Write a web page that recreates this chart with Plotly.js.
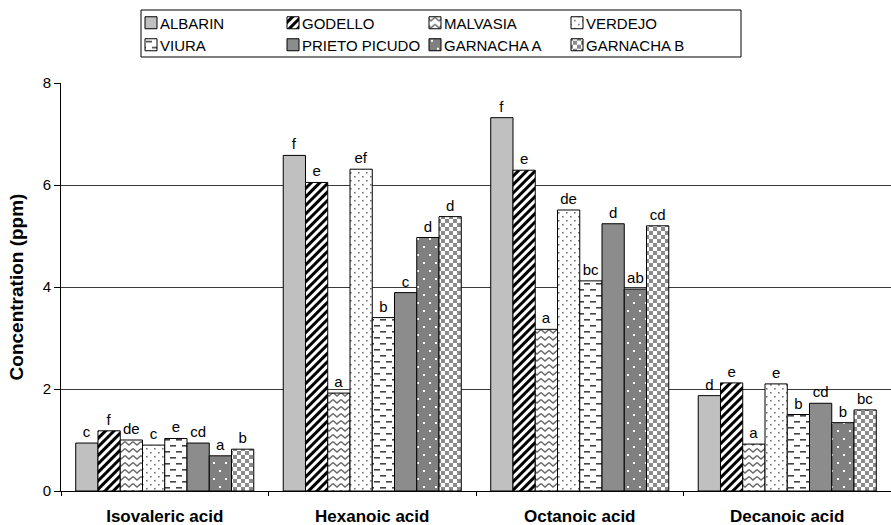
<!DOCTYPE html>
<html><head><meta charset="utf-8">
<script src="https://cdn.plot.ly/plotly-3.0.1.min.js"></script>
<style>html,body{margin:0;padding:0;background:#fff}#chart{width:891px;height:525px}</style>
</head><body><div id="chart"></div>
<script>
var categories = ["Isovaleric acid", "Hexanoic acid", "Octanoic acid", "Decanoic acid"];
var seriesNames = ["ALBARIN", "GODELLO", "MALVASIA", "VERDEJO", "VIURA", "PRIETO PICUDO", "GARNACHA A", "GARNACHA B"];
var ALBARIN = [0.94, 6.58, 7.32, 1.87];
var GODELLO = [1.18, 6.05, 6.29, 2.12];
var MALVASIA = [1.00, 1.92, 3.17, 0.92];
var VERDEJO = [0.90, 6.31, 5.51, 2.10];
var VIURA = [1.03, 3.40, 4.12, 1.50];
var PRIETO_PICUDO = [0.94, 3.89, 5.24, 1.72];
var GARNACHA_A = [0.69, 4.97, 3.96, 1.34];
var GARNACHA_B = [0.82, 5.38, 5.20, 1.59];
var letters_ALBARIN = ["c", "f", "f", "d"];
var letters_GODELLO = ["f", "e", "e", "e"];
var letters_MALVASIA = ["de", "a", "a", "a"];
var letters_VERDEJO = ["c", "ef", "de", "e"];
var letters_VIURA = ["e", "b", "bc", "b"];
var letters_PRIETO_PICUDO = ["cd", "c", "d", "cd"];
var letters_GARNACHA_A = ["a", "d", "ab", "b"];
var letters_GARNACHA_B = ["b", "d", "cd", "bc"];

var values = [ALBARIN, GODELLO, MALVASIA, VERDEJO, VIURA, PRIETO_PICUDO, GARNACHA_A, GARNACHA_B];
var letters = [letters_ALBARIN, letters_GODELLO, letters_MALVASIA, letters_VERDEJO, letters_VIURA, letters_PRIETO_PICUDO, letters_GARNACHA_A, letters_GARNACHA_B];

var fills = ["#c0c0c0", "#ffffff", "#ffffff", "#ffffff", "#ffffff", "#8c8c8c", "#808080", "#ffffff"];
var hasPattern = [false, true, true, true, true, false, true, true];

// custom SVG pattern tiles (applied after render, keyed by trace uid)
var customPatterns = {
  "GODELLO": {w: 6, h: 6, t: "rotate(45)", c: '<rect width="6" height="6" fill="#fff"/><rect width="3" height="6" fill="#000"/>'},
  "MALVASIA": {w: 8, h: 7, c: '<rect width="8" height="7" fill="#fff"/><polyline points="0,1.5 4,5 8,1.5" fill="none" stroke="#6a6a6a" stroke-width="1.4"/>'},
  "VERDEJO": {w: 8, h: 8, c: '<rect width="8" height="8" fill="#fff"/><rect x="1" y="1" width="1.6" height="1.6" fill="#777"/><rect x="5" y="5" width="1.6" height="1.6" fill="#777"/>'},
  "VIURA": {w: 12, h: 12, c: '<rect width="12" height="12" fill="#fff"/><rect x="1" y="2" width="6" height="1.6" fill="#444"/><rect x="7" y="8" width="5" height="1.6" fill="#444"/><rect x="0" y="8" width="1" height="1.6" fill="#444"/>'},
  "GARNACHA A": {w: 12, h: 16, c: '<rect width="12" height="16" fill="#808080"/><rect x="2" y="3" width="2" height="2" fill="#fff"/><rect x="8" y="11" width="2" height="2" fill="#fff"/>'},
  "GARNACHA B": {w: 8, h: 8, c: '<rect width="8" height="8" fill="#fff"/><rect x="0" y="0" width="4" height="4" fill="#8a8a8a"/><rect x="4" y="4" width="4" height="4" fill="#8a8a8a"/>'}
};

var font = "Liberation Sans, Arial, sans-serif";
var traces = seriesNames.map(function(n, i) {
  var m = {color: fills[i], line: {color: "#000", width: 1}};
  if (hasPattern[i]) m.pattern = {shape: "/", fgcolor: "#000", bgcolor: fills[i], size: 8, solidity: 0.3};
  return {type: "bar", name: n, uid: "srs" + i, x: categories, y: values[i], text: letters[i],
    textposition: "outside", textfont: {family: font, size: 15, color: "#000"},
    cliponaxis: false, marker: m, hoverinfo: "none", legend: i < 4 ? "legend" : "legend2"};
});
var legendCommon = {orientation: "h", xref: "container", yref: "container", xanchor: "left", yanchor: "middle",
  borderwidth: 0, bgcolor: "rgba(0,0,0,0)", entrywidth: 97, entrywidthmode: "pixels",
  font: {family: font, size: 15, color: "#000"}, itemwidth: 30};
var layout = {
  width: 891, height: 525,
  margin: {l: 61, r: 0, t: 83, b: 34},
  paper_bgcolor: "#fff", plot_bgcolor: "#fff",
  font: {family: font, size: 15, color: "#000"},
  barmode: "group", bargap: 0.142, bargroupgap: 0,
  showlegend: true,
  legend: Object.assign({}, legendCommon, {x: 131 / 891, y: 1 - 23 / 525}),
  legend2: Object.assign({}, legendCommon, {x: 131 / 891, y: 1 - 45 / 525}),
  shapes: [{type: "rect", xref: "paper", yref: "paper", x0: (141 - 61) / 830, x1: (741 - 61) / 830,
    y0: (491 - 57) / 408, y1: (491 - 10) / 408, line: {color: "#000", width: 1}, fillcolor: "rgba(0,0,0,0)"}],
  xaxis: {showline: true, linecolor: "#000", linewidth: 1, ticks: "outside", tickson: "boundaries", ticklen: 4,
    tickcolor: "#000", tickfont: {family: font, size: 17, color: "#000", weight: "bold"}, showgrid: false,
    ticklabelstandoff: 10},
  yaxis: {range: [0, 8], dtick: 2, showline: true, linecolor: "#000", linewidth: 1, ticks: "outside", ticklen: 6,
    tickcolor: "#000", showgrid: true, gridcolor: "#3a3a3a", gridwidth: 1, zeroline: false,
    tickfont: {family: font, size: 15, color: "#000"},
    title: {text: "Concentration (ppm)", font: {family: font, size: 19, color: "#000", weight: "bold"}, standoff: 14}}
};

function postProcess() {
  var gd = document.getElementById("chart");
  gd.querySelectorAll("pattern").forEach(function(pat) {
    var parts = (pat.id || "").split("-");
    for (var i = 0; i < seriesNames.length; i++) {
      if (parts.indexOf("srs" + i) >= 0) {
        var name = seriesNames[i], cp = customPatterns[name];
        if (!cp || pat.getAttribute("data-c") === name) return;
        pat.setAttribute("data-c", name);
        pat.setAttribute("patternUnits", "userSpaceOnUse");
        pat.setAttribute("width", cp.w);
        pat.setAttribute("height", cp.h);
        if (cp.t) pat.setAttribute("patternTransform", cp.t); else pat.removeAttribute("patternTransform");
        pat.innerHTML = cp.c;
        return;
      }
    }
  });
  gd.querySelectorAll("text").forEach(function(t) {
    if (seriesNames.indexOf(t.textContent) >= 0 && t.getAttribute("x") === "40") t.setAttribute("x", 29);
  });
}
var gdEl = document.getElementById("chart");
Plotly.newPlot(gdEl, traces, layout, {displayModeBar: false, staticPlot: true}).then(function() {
  postProcess();
  setTimeout(postProcess, 30);
});
</script></body></html>
